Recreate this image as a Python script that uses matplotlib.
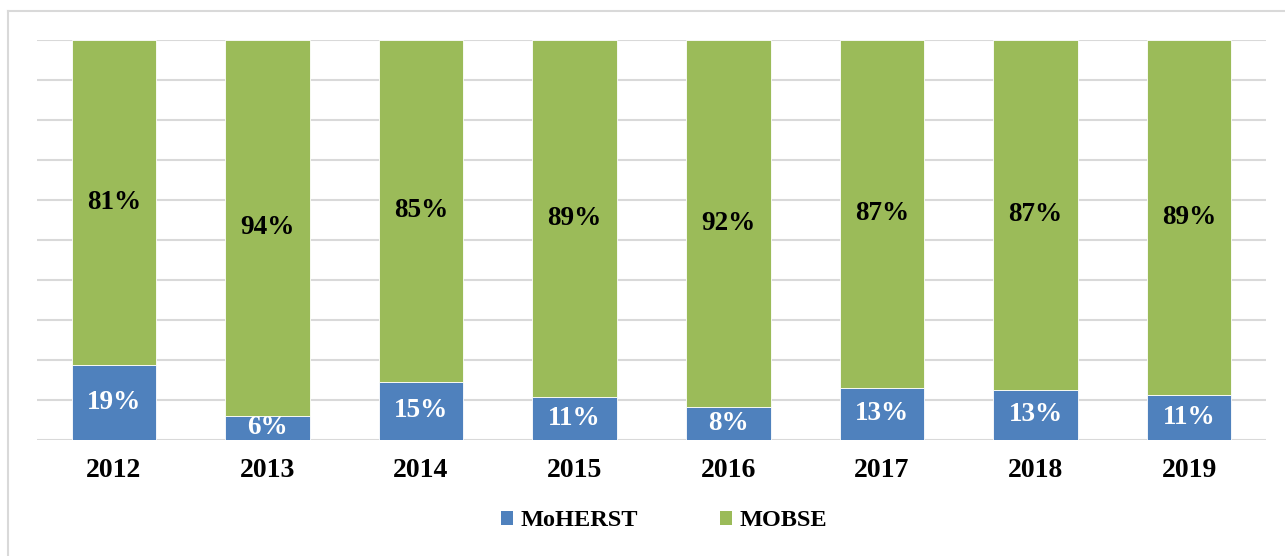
import matplotlib
matplotlib.use("Agg")
import matplotlib.pyplot as plt
from matplotlib.patches import Patch
import numpy as np

years = ["2012", "2013", "2014", "2015", "2016", "2017", "2018", "2019"]
moherst = [18.8, 6.0, 14.6, 10.8, 8.3, 13.0, 12.6, 11.2]
mobse = [81.2, 94.0, 85.4, 89.2, 91.7, 87.0, 87.4, 88.8]

blue = "#4F81BD"
green = "#9BBB59"
grid = "#D9D9D9"
font = "Liberation Serif"

W, H = 1285, 556
fig = plt.figure(figsize=(W / 100, H / 100), dpi=100)
ax = fig.add_axes([37 / W, (H - 440) / H, (1266 - 37) / W, 400 / H])

x = np.arange(len(years))
bw = 0.55
ax.bar(x, moherst, bw, color=blue, edgecolor="white", linewidth=0.6, zorder=3)
ax.bar(x, mobse, bw, bottom=moherst, color=green, edgecolor="white", linewidth=0.6, zorder=3)

for i in range(len(years)):
    ax.text(x[i], moherst[i] / 2, f"{round(moherst[i])}%", ha="center", va="center",
            color="white", fontsize=19.5, fontweight="bold", family=font, zorder=4)
    ax.text(x[i], moherst[i] + mobse[i] / 2, f"{round(mobse[i])}%", ha="center", va="center",
            color="black", fontsize=19.5, fontweight="bold", family=font, zorder=4)

ax.set_xlim(-0.5, len(years) - 0.5)
ax.set_ylim(0, 100)
ax.set_yticks(np.arange(0, 101, 10))
ax.set_yticklabels([])
ax.yaxis.grid(True, color=grid, linewidth=1.5, zorder=0)
ax.tick_params(axis="y", length=0)
ax.set_xticks(x)
ax.set_xticklabels(years, fontsize=20, fontweight="bold", family=font)
ax.tick_params(axis="x", length=0, pad=13)
for s in ax.spines.values():
    s.set_visible(False)

# outer frame (top and left lines)
fig.add_artist(plt.Line2D([8 / W, 8 / W], [0, 1 - 11 / H], transform=fig.transFigure, color=grid, linewidth=1.5))
fig.add_artist(plt.Line2D([8 / W, 1], [1 - 11 / H, 1 - 11 / H], transform=fig.transFigure, color=grid, linewidth=1.5))

handles = [Patch(facecolor=blue, label="MoHERST"), Patch(facecolor=green, label="MOBSE")]
fig.legend(handles=handles, loc="center", bbox_to_anchor=(664 / W, (H - 521) / H), ncol=2,
           frameon=False, prop={"family": font, "weight": "bold", "size": 17.5},
           handlelength=0.5, handleheight=0.5, handletextpad=0.3, columnspacing=3.4)

fig.savefig("out.png", dpi=100)
